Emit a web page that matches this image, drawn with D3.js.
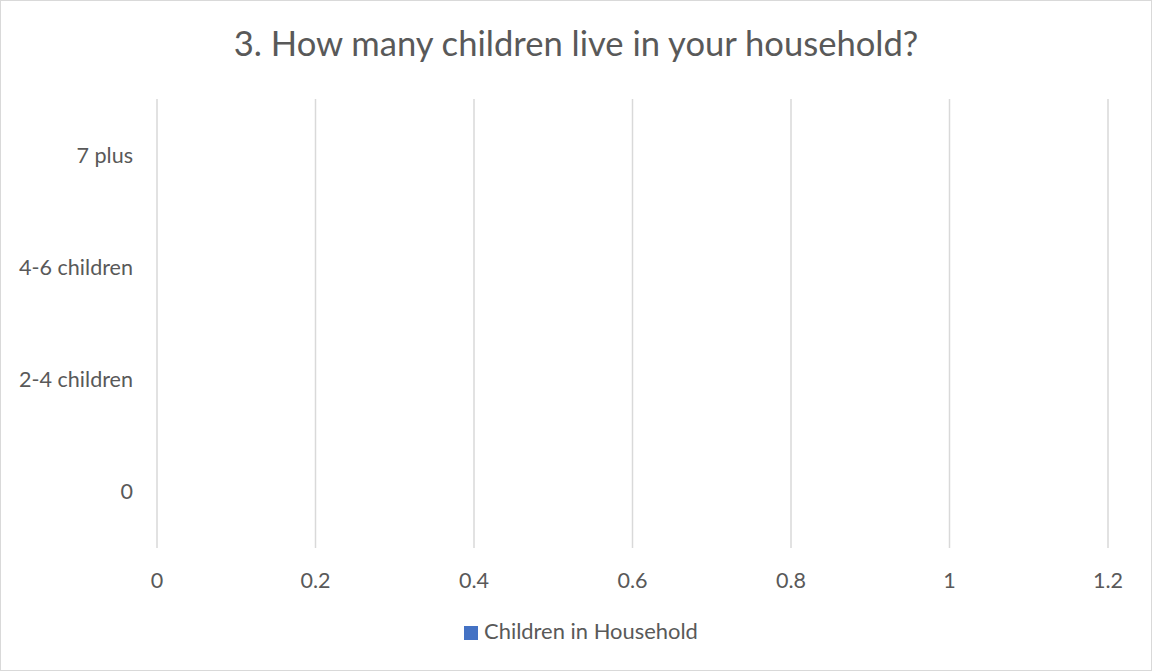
<!DOCTYPE html>
<html>
<head>
<meta charset="utf-8">
<script src="https://cdn.jsdelivr.net/npm/d3@7"></script>
<style>
  html, body { margin: 0; padding: 0; background: #fff; }
  svg { display: block; }
  text { font-family: Lato, "Open Sans", sans-serif; fill: #595959; }
</style>
</head>
<body>
<svg id="chart" width="1152" height="671"></svg>
<script>
const title = "3. How many children live in your household?";
const categories = ["0", "2-4 children", "4-6 children", "7 plus"];
const values = [0, 0, 0, 0];
const xTicks = [0, 0.2, 0.4, 0.6, 0.8, 1, 1.2];
const seriesName = "Children in Household";

const W = 1152, H = 671;
const plot = { left: 157, right: 1108, top: 99, bottom: 548 };
const svg = d3.select("#chart");

// fit font size so given text reaches target width
function fitFont(sel, target, base) {
  sel.style("font-size", base + "px");
  const w = sel.node().getComputedTextLength();
  const fs = base * target / w;
  sel.style("font-size", fs + "px");
  return fs;
}

svg.append("rect")
  .attr("x", 0.5).attr("y", 0.5).attr("width", W - 1).attr("height", H - 1)
  .attr("fill", "#fff").attr("stroke", "#d9d9d9").attr("stroke-width", 1);

const x = d3.scaleLinear().domain([0, 1.2]).range([plot.left, plot.right]);
const y = d3.scaleBand().domain(categories.slice().reverse()).range([plot.top, plot.bottom]).paddingInner(0.5).paddingOuter(0.25);
const yc = d3.scaleBand().domain(categories.slice().reverse()).range([plot.top, plot.bottom]);

// gridlines
svg.append("g").selectAll("line").data(xTicks).join("line")
  .attr("x1", d => x(d)).attr("x2", d => x(d))
  .attr("y1", plot.top).attr("y2", plot.bottom)
  .attr("stroke", "#d9d9d9").attr("stroke-width", 1.5);

// bars (all zero)
svg.append("g").selectAll("rect").data(categories.map((c, i) => ({ c, v: values[i] }))).join("rect")
  .attr("x", x(0)).attr("y", d => y(d.c))
  .attr("width", d => x(d.v) - x(0)).attr("height", y.bandwidth())
  .attr("fill", "#4472C4");

// title
const t = svg.append("text").attr("x", 576).attr("y", 56).attr("text-anchor", "middle").text(title);
fitFont(t, 685, 30);

// y labels
const yl = svg.append("g").selectAll("text").data(categories).join("text")
  .attr("x", 133).attr("y", d => yc(d) + yc.bandwidth() / 2)
  .attr("dy", "0.35em").attr("text-anchor", "end").text(d => d);
const ref = yl.filter(d => d === "4-6 children");
const fsY = fitFont(ref, 114, 20);
yl.style("font-size", fsY + "px");

// x tick labels
svg.append("g").selectAll("text").data(xTicks).join("text")
  .attr("x", d => x(d)).attr("y", 588).attr("text-anchor", "middle")
  .style("font-size", fsY + "px").text(d => d3.format("~g")(d));

// legend
svg.append("rect").attr("x", 464).attr("y", 626).attr("width", 14).attr("height", 14).attr("fill", "#4472C4");
const lt = svg.append("text").attr("x", 484).attr("y", 639).text(seriesName);
fitFont(lt, 214, 20);
</script>
</body>
</html>
